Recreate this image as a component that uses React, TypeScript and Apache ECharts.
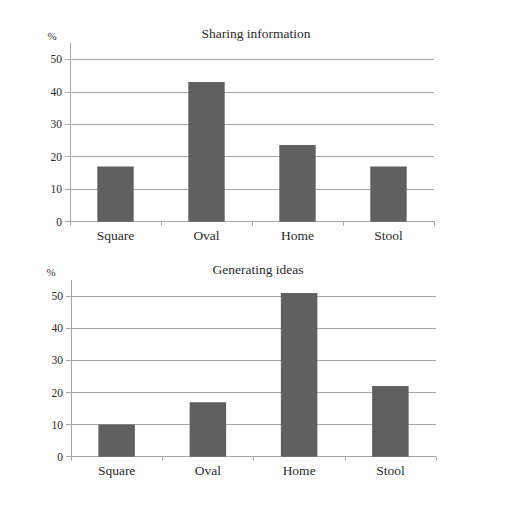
import React, { useEffect, useRef } from "react";
import * as echarts from "echarts";

const categories = ["Square", "Oval", "Home", "Stool"];
const sharingValues = [17, 43, 23.6, 17];
const generatingValues = [10, 17, 51, 22];
const titles = ["Sharing information", "Generating ideas"];
const yMin = 0;
const yMax = 50;
const yInterval = 10;

const FONT = "'Liberation Serif', 'DejaVu Serif', serif";
const TEXT = "#2a2a2a";
const GRIDC = "#a6a6a6";
const BAR = "#606060";

export default function App() {
  const ref = useRef<HTMLDivElement>(null);
  useEffect(() => {
    if (!ref.current) return;
    const chart = echarts.init(ref.current, undefined, { renderer: "svg" });
    const grids = [
      { left: 70, right: 77, top: 59.3, bottom: 297.3 },
      { left: 71, right: 75, top: 296.3, bottom: 62.3 },
    ];
    const xAxis = grids.map((_, i) => ({
      type: "category" as const,
      gridIndex: i,
      data: categories,
      boundaryGap: true,
      axisLine: { show: true, lineStyle: { color: GRIDC, width: 1 } },
      axisTick: { show: true, length: 4, lineStyle: { color: GRIDC } },
      axisLabel: { color: TEXT, fontFamily: FONT, fontSize: 13.5, margin: 7 },
    }));
    const yAxis = grids.map((_, i) => ({
      type: "value" as const,
      gridIndex: i,
      min: yMin,
      max: yMax,
      interval: yInterval,
      axisLine: { show: true, lineStyle: { color: GRIDC, width: 1 } },
      axisTick: { show: true, length: 5, lineStyle: { color: GRIDC } },
      splitLine: { show: true, lineStyle: { color: GRIDC, width: 1 } },
      axisLabel: { color: TEXT, fontFamily: FONT, fontSize: 11.5, margin: 8 },
    }));
    const seriesData = [sharingValues, generatingValues];
    chart.setOption({
      animation: false,
      backgroundColor: "#ffffff",
      title: titles.map((t, i) => ({
        text: t,
        left: i === 0 ? 251 : 253,
        top: i === 0 ? 21 : 257,
        textAlign: "center",
        textStyle: { color: TEXT, fontFamily: FONT, fontSize: 13.5, fontWeight: "normal" },
      })),
      grid: grids,
      xAxis,
      yAxis,
      series: seriesData.map((d, i) => ({
        type: "bar",
        xAxisIndex: i,
        yAxisIndex: i,
        data: d,
        clip: false,
        barWidth: "40%",
        itemStyle: { color: BAR },
      })),
      graphic: [
        { type: "line", shape: { x1: 70.5, y1: 43, x2: 70.5, y2: 59.3 }, style: { stroke: GRIDC, lineWidth: 1 } },
        { type: "line", shape: { x1: 71.5, y1: 280, x2: 71.5, y2: 296.3 }, style: { stroke: GRIDC, lineWidth: 1 } },
        { type: "text", x: 52, y: 36, style: { text: "%", fill: TEXT, font: `11px ${FONT}`, textAlign: "center", textVerticalAlign: "middle" } },
        { type: "text", x: 51, y: 272, style: { text: "%", fill: TEXT, font: `11px ${FONT}`, textAlign: "center", textVerticalAlign: "middle" } },
      ],
    });
    return () => chart.dispose();
  }, []);
  return (
    <div
      ref={ref}
      style={{ position: "absolute", left: 0, top: 0, width: 511, height: 519 }}
    />
  );
}
